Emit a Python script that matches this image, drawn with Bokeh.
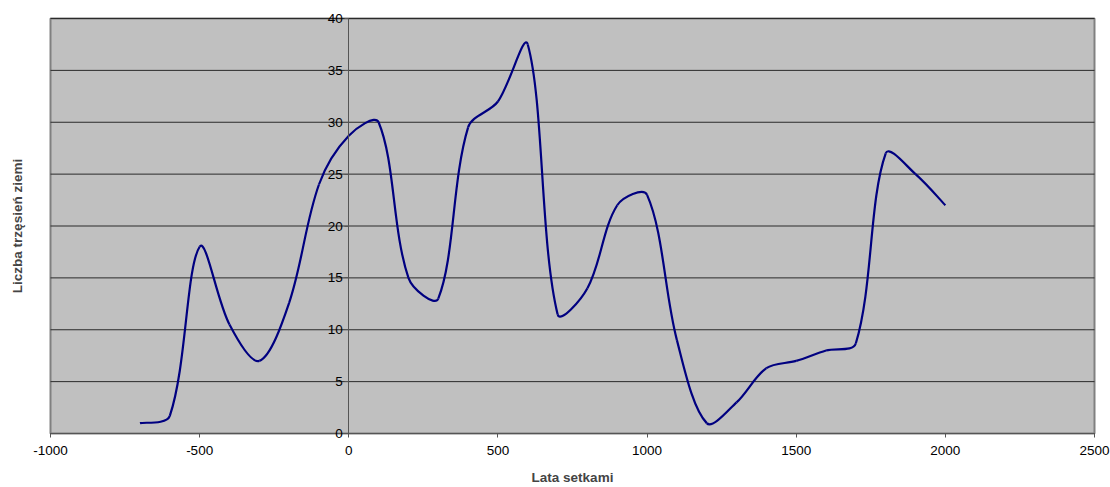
from bokeh.plotting import figure
from bokeh.models import Range1d, LinearAxis, FixedTicker
from bokeh.embed import file_html
from bokeh.resources import INLINE
import math

# data
years = [-700, -600, -500, -400, -300, -200, -100, 0, 100, 200, 300, 400, 500, 600,
         700, 800, 900, 1000, 1100, 1200, 1300, 1400, 1500, 1600, 1700, 1800, 1900, 2000]
counts = [1, 1.7, 18, 10.5, 7, 12.6, 24, 28.7, 30, 15, 13, 29.5, 32, 37.5,
          11.5, 14, 22, 23, 9, 1, 3, 6.3, 7, 8, 8.7, 27, 25, 22]
x_ticks = [-1000, -500, 0, 500, 1000, 1500, 2000, 2500]
x_tick_labels = ["-1000", "-500", "0", "500", "1000", "1500", "2000", "2500"]
y_ticks = [0, 5, 10, 15, 20, 25, 30, 35, 40]
y_tick_labels = ["0", "5", "10", "15", "20", "25", "30", "35", "40"]

X_MIN, X_MAX, Y_MIN, Y_MAX = -1000, 2500, 0, 40

# layout (pixels): the plotting area is drawn inside a full-canvas frame
W, H = 1110, 487
PL, PR, PT, PB = 50, 1094, 18, 433
sx = (PR - PL) / (X_MAX - X_MIN)
sy = (PB - PT) / (Y_MAX - Y_MIN)
xr = Range1d(X_MIN - PL / sx, X_MAX + (W - PR) / sx)
yr = Range1d(Y_MIN - (H - PB) / sy, Y_MAX + PT / sy)

# smoothed line (Excel-like: tangents weighted by neighbouring segment lengths)
n = len(years)
def seg_len(a, b):
    return math.hypot((years[b] - years[a]) * sx, (counts[b] - counts[a]) * sy)

x0, y0, x1, y1, cx0, cy0, cx1, cy1 = [], [], [], [], [], [], [], []
for i in range(n - 1):
    j = i + 1
    if i == 0:
        ax, ay = (years[j] - years[i]) / 6, (counts[j] - counts[i]) / 6
    else:
        d1, d2 = seg_len(i - 1, i), seg_len(i, j)
        f = d2 / (d1 + d2) / 3
        ax, ay = (years[j] - years[i - 1]) * f, (counts[j] - counts[i - 1]) * f
    if j == n - 1:
        bx, by = (years[j] - years[i]) / 6, (counts[j] - counts[i]) / 6
    else:
        d1, d2 = seg_len(i, j), seg_len(j, j + 1)
        f = d1 / (d1 + d2) / 3
        bx, by = (years[j + 1] - years[i]) * f, (counts[j + 1] - counts[i]) * f
    x0.append(years[i]); y0.append(counts[i])
    x1.append(years[j]); y1.append(counts[j])
    cx0.append(years[i] + ax); cy0.append(counts[i] + ay)
    cx1.append(years[j] - bx); cy1.append(counts[j] - by)

FONT = "Liberation Sans"

p = figure(width=W, height=H, output_backend="svg", toolbar_location=None,
           x_range=xr, y_range=yr, x_axis_location=None, y_axis_location=None,
           min_border=0, min_border_left=0, min_border_right=0,
           min_border_top=0, min_border_bottom=0)
p.background_fill_color = "white"
p.border_fill_color = "white"
p.outline_line_color = None
p.grid.visible = False

# plot area
p.quad(left=[X_MIN], right=[X_MAX], bottom=[Y_MIN], top=[Y_MAX],
       fill_color="#C0C0C0", line_color="#808080", line_width=2)

# horizontal grid lines at the y ticks
p.segment(x0=[X_MIN] * len(y_ticks), x1=[X_MAX] * len(y_ticks), y0=y_ticks, y1=y_ticks,
          line_color="#2a2a2a", line_width=1)

# the series
p.bezier(x0=x0, y0=y0, x1=x1, y1=y1, cx0=cx0, cy0=cy0, cx1=cx1, cy1=cy1,
         line_color="#000080", line_width=2.2)

# x axis along y = 0
xa = LinearAxis(fixed_location=0, bounds=(X_MIN, X_MAX), ticker=FixedTicker(ticks=x_ticks))
xa.major_label_overrides = dict(zip(x_ticks, x_tick_labels))
xa.axis_line_color = "#555555"
xa.axis_line_width = 1
xa.major_tick_line_color = "#555555"
xa.major_tick_out = 4
xa.major_tick_in = 0
xa.minor_tick_line_color = None
xa.major_label_standoff = 8
xa.major_label_text_font = FONT
xa.major_label_text_font_size = "13.5px"
xa.major_label_text_color = "black"
xa.axis_label = "Lata setkami"
xa.axis_label_text_font = FONT
xa.axis_label_text_font_style = "bold"
xa.axis_label_text_font_size = "13.5px"
xa.axis_label_standoff = 12
p.add_layout(xa, "below")

# y axis along x = 0
ya = LinearAxis(fixed_location=0, bounds=(Y_MIN, Y_MAX), ticker=FixedTicker(ticks=y_ticks))
ya.major_label_overrides = dict(zip(y_ticks, y_tick_labels))
ya.axis_line_color = "#555555"
ya.major_tick_line_color = "#555555"
ya.major_tick_out = 4
ya.major_tick_in = 0
ya.minor_tick_line_color = None
ya.major_label_standoff = 2
ya.major_label_text_font = FONT
ya.major_label_text_font_size = "13.5px"
ya.major_label_text_color = "black"
p.add_layout(ya, "left")

# y title, carried by a bare axis at the left edge of the plot area
ta = LinearAxis(fixed_location=X_MIN, bounds=(Y_MIN, Y_MAX), ticker=FixedTicker(ticks=[]),
                axis_line_color=None, major_tick_line_color=None, minor_tick_line_color=None,
                axis_label="Liczba trzęsień ziemi", axis_label_text_font=FONT,
                axis_label_text_font_style="bold", axis_label_text_font_size="13.5px",
                axis_label_standoff=26)
p.add_layout(ta, "left")

open("out.html", "w").write(file_html(p, INLINE))
